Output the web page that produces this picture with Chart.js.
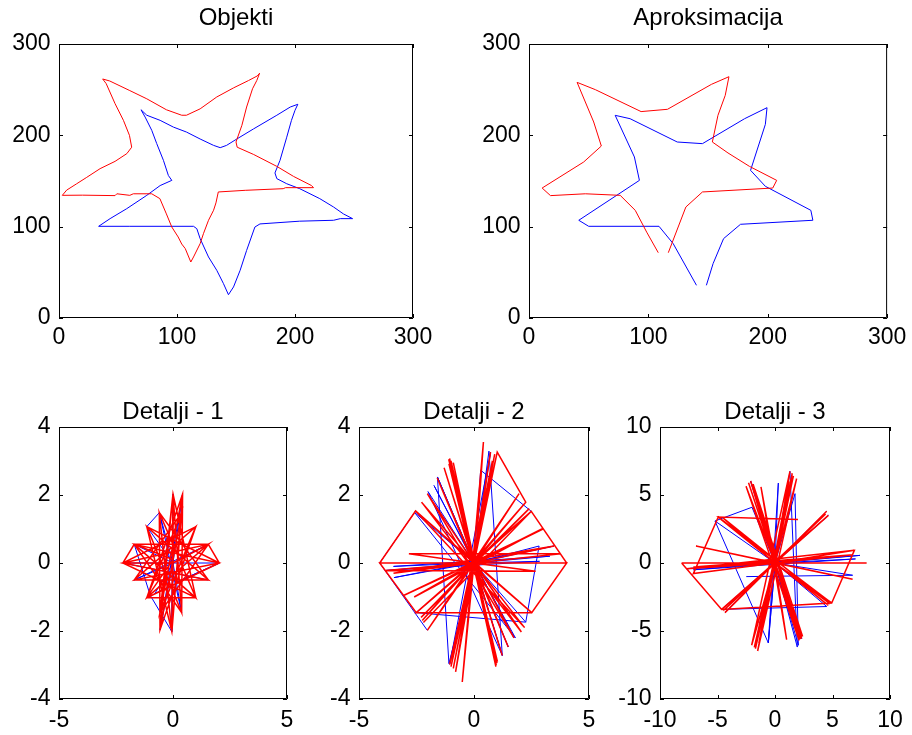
<!DOCTYPE html>
<html>
<head>
<meta charset="utf-8">
<script src="https://cdn.jsdelivr.net/npm/chart.js@4.4.1/dist/chart.umd.min.js"></script>
<style>
  body { margin: 0; background: #fff; }
  #wrap { position: relative; width: 912px; height: 735px; overflow: hidden; }
  canvas { position: absolute; }
</style>
</head>
<body>
<div id="wrap">
  <canvas id="objekti"></canvas>
  <canvas id="aproks"></canvas>
  <canvas id="det1"></canvas>
  <canvas id="det2"></canvas>
  <canvas id="det3"></canvas>
</div>
<script>
// ---- data ----
const titles = ['Objekti', 'Aproksimacija', 'Detalji - 1', 'Detalji - 2', 'Detalji - 3'];

const ticksTop = [0, 100, 200, 300];
const ticksDet1X = [-5, 0, 5];
const ticksDet1Y = [-4, -2, 0, 2, 4];
const ticksDet3 = [-10, -5, 0, 5, 10];

const objektiRed = [[2.8,134.3],[20,134.5],[47.5,134],[49,136],[60,134.3],[63,136],[78.6,136],[85.5,130.7],[91,114],[95.6,99.6],[101,88.7],[104,81],[107,76],[111.7,61.3],[114,66.8],[119.6,81.4],[122.4,92.3],[126.7,107],[131,118],[133,126],[135,138],[157.8,139.8],[190,141.6],[192,142.7],[215.7,142.7],[214,145],[198.8,155],[184.6,166],[165,179],[151,187],[150,192.7],[155,211],[159,231],[164,251],[167.6,260],[170,268],[168,265],[160.6,260],[148,252],[133.7,242],[119.6,229],[108,222],[104,222],[91,228],[74.4,240],[60,249],[43,259.5],[37,261.7],[40,256.6],[47.5,234.7],[54.6,216.4],[59.7,200],[61.6,187],[57.5,180],[47.5,171.5],[34.8,163.5],[23.5,154],[15,147],[6.5,140],[2.8,134.3]];

const objektiBlue = [[33.6,100.4],[60,100.4],[114,100.4],[116.8,97.8],[119.6,86.9],[126.7,66.8],[133.7,52.2],[139.4,37.6],[143.6,25.5],[147.9,34],[153.5,52.2],[159,74],[166,99.6],[170.3,103],[204,106],[232.7,107],[238.4,108.8],[248.8,108.8],[241,114],[232.7,121.5],[221,130.7],[204,141.6],[193,147],[184.6,152.6],[183,158.8],[187.3,172.6],[193,198],[197,216.4],[200,227.4],[202.4,234],[196,231],[184.6,222],[164.8,207],[150.7,196],[142,189],[136.6,186.5],[131,189],[119.6,196],[108,203.6],[97,209],[85.7,216.4],[74.4,222],[69.5,228],[73,220],[78.6,205.5],[82.8,191],[88.5,172.6],[92.7,156],[95.6,150.7],[85.7,145],[74.4,134.3],[57.4,119.7],[43.3,108.8],[33.6,100.4]];

const aproksRed = [[108.3,71.5],[98.6,94],[89,117.9],[76.4,134.3],[47.2,136],[18,134],[11,142.3],[45.8,170.8],[60.6,188.3],[54.2,214.6],[40.3,258],[55.6,250],[93.9,226],[116,228.5],[152.8,255.8],[167.5,264.2],[164.4,243.8],[158.3,221.9],[153.6,192.7],[166.7,180.7],[184.7,166],[207.5,150.7],[204.2,142.3],[145.3,138],[131.4,121.5],[116.7,71.5]];

const aproksBlue = [[140.3,35.8],[120.8,81.4],[108.9,100.4],[50,100.4],[41.7,107],[92.5,150.7],[88.3,176.3],[72.2,221.9],[84.7,218.2],[124.2,192.7],[145.3,190.9],[180.6,218.2],[199.4,230.3],[198,212],[185.6,161.7],[198,144.2],[236.1,117.9],[237.8,107],[177.2,102.6],[163,86.9],[154.2,59.5],[148.6,35.8]];

const det1Red = [[2.03,0],[-1.15,1.07],[-0.05,-2.02],[0.38,1.48],[-1.7,-0.5],[1.55,-0.5],[-0.6,1.48],[-0.57,-1.97],[1.0,1.07],[-2.2,0],[1.0,-1.02],[0,2.03],[-0.57,-1.46],[1.55,0.55],[-1.7,0.55],[0.38,-1.46],[0.42,2.03],[-1.15,-1.02],[2.03,0],[-1.7,0.55],[1.0,-1.02],[-0.6,1.48],[-0.05,-2.02],[0.42,2.03],[-0.57,-1.46],[1.0,1.07],[-1.7,-0.5],[2.03,0],[1.55,0.55],[-2.2,0],[1.55,-0.5],[-1.15,1.07],[0.38,-1.46],[0,2.03],[-0.57,-1.97],[0.38,1.48],[-1.15,-1.02],[1.55,0.55],[0,0],[0,2.03],[-0.05,-2.02],[0,0],[-2.2,0],[-1.7,0.55],[0,0.1],[-1.15,-1.02],[1.0,-1.02]];

const det1Blue = [[-0.6,1.48],[-1.15,1.07],[0,0],[-1.7,0.55],[-1.0,-0.95],[-0.05,-2.02],[0,2.03],[-0.05,-2.02],[0,0],[2.03,0],[0.2,-0.55],[2.03,0],[-0.8,-0.9],[0,0],[0.42,2.03],[-0.57,-1.97],[0,0],[1.55,0.55],[-1.7,-0.5],[0,0],[-0.6,1.48],[0.38,-1.46],[0,0],[-2.2,0],[1.55,-0.5]];

const det2Red = [[-4.1,0],[-2.54,1.53],[2.51,-1.46],[4.03,0],[2.49,1.52],[-2.51,-1.46],[-4.1,0],[4.03,0],[2.51,-1.46],[-2.51,-1.46],[0,0],[-1.06,3.07],[0.97,-3.01],[0.05,0],[-1.09,2.92],[1.0,-2.95],[0,0.1],[-1.0,3.0],[0.95,-3.05],[0,0],[-1.1,3.05],[1.02,-2.9],[0,0],[1.01,3.26],[-1.06,-2.98],[0,0],[0.72,3.26],[-0.8,-3.2],[0.05,0.05],[0.41,3.56],[-0.51,-3.5],[0,0],[0.9,3.2],[-0.9,-3.1],[0,0],[0.8,3.0],[-1.0,-3.05],[0,0],[-2.54,1.53],[2.51,-1.46],[0,0],[-2.28,1.79],[2.06,-2.03],[0,0],[-2.03,2.04],[1.74,-2.2],[0,0],[-1.6,2.5],[1.49,-2.47],[0,0],[-1.3,2.8],[1.23,-2.72],[0,0],[2.49,1.52],[-2.51,-1.46],[0,0],[2.25,1.79],[-2.25,-1.69],[0,0],[1.96,2.04],[-2.03,-1.98],[0,0],[2.97,1.01],[-2.6,-1.0],[0,0],[2.4,1.6],[-2.3,-1.6],[0,0],[-2.83,0.27],[3.77,0.27],[0,0],[-3.84,-0.22],[2.68,-0.24],[0,0],[3.48,0.5],[-3.5,-0.3],[0,0],[3.0,1.0],[-3.04,-0.95],[0,0],[1.01,3.26],[2.25,1.79],[0,0],[-0.9,2.95],[0.97,-3.01],[0,0],[-2.54,1.53],[2.2,-1.9],[0,0],[2.49,1.52],[-2.2,-1.75]];

const det2Blue = [[-2.03,-1.98],[-4.1,0],[-2.54,1.53],[0,0],[-1.59,2.53],[-1.09,-2.96],[0,0],[-1.74,2.28],[1.74,-2.2],[0,0],[-1.59,2.53],[1.49,-2.47],[0,0],[-2.0,2.1],[1.23,-2.72],[0,0],[-2.6,1.5],[1.8,-2.2],[0,0],[0.65,3.29],[1.23,-2.72],[0,0],[0.72,3.26],[-1.06,-2.98],[0,0],[0.29,2.73],[2.49,1.52],[0,0],[-3.48,-0.43],[3.48,0.5],[0,0],[-3.84,-0.22],[2.85,0.05],[0,0],[2.83,0.5],[2.25,-1.74],[0,0],[-3.5,-0.1],[3.3,0.2],[0,0],[-2.51,-1.46],[2.25,-1.74]];

const det3Red = [[-8.12,0],[-4.64,-3.41],[4.93,-2.94],[6.9,0.93],[0,0],[-8.12,0],[7.97,0],[0,0],[-7.68,-0.42],[6.9,0.93],[0,0],[-7.1,-0.3],[6.8,0.6],[0,0],[-6.87,1.25],[6.75,-1.2],[0,0],[-7.1,-0.78],[-4.93,3.38],[0,0],[-4.93,3.38],[4.93,-2.94],[0,0],[-4.7,3.2],[4.64,-3.11],[0,0],[-4.5,3.3],[4.8,-3.0],[0,0],[4.49,3.8],[-4.35,-3.65],[0,0],[4.64,3.5],[-4.64,-3.41],[0,0],[4.4,3.6],[-4.5,-3.5],[0,0],[-2.12,6.03],[2.32,-5.56],[0,0],[-2.52,5.64],[2.1,-5.7],[0,0],[-2.3,5.9],[2.2,-5.6],[0,0],[-1.9,5.8],[2.4,-5.4],[0,0],[1.3,6.74],[-2.03,-6.05],[0,0],[1.88,6.2],[-1.51,-6.47],[0,0],[1.6,6.4],[-1.8,-6.2],[0,0],[1.5,6.6],[-1.7,-6.3],[0,0],[1.2,6.0],[-1.4,-5.9],[0,0],[-1.22,5.59],[1.01,-5.64],[0,0],[-4.93,3.38],[2.0,3.2]];

const det3Blue = [[-5.22,3.09],[-2.0,4.1],[0,0],[-5.22,3.09],[-0.58,-5.88],[0,0],[0.29,5.88],[-0.58,-5.88],[0,0],[1.74,5.1],[2.03,-6.05],[0,0],[1.3,6.74],[1.94,-6.18],[0,0],[-2.12,6.03],[2.32,-5.56],[0,0],[7.39,0.56],[-7.68,-0.42],[0,0],[7.0,0.3],[-7.1,-0.5],[0,0],[4.64,3.5],[-4.64,-3.41],[4.5,-3.2],[0,0],[4.49,3.8],[-4.35,-3.65],[0,0],[6.75,-0.9],[-2.5,-1.0]];

// ---- drawing ----
Chart.defaults.font.family = '"Liberation Sans", Arial, Helvetica, sans-serif';
Chart.defaults.color = '#000';

// box with inward tick marks on all four sides, like the original figure
const framePlugin = {
  id: 'frame',
  afterDatasetsDraw(chart) {
    const { ctx, chartArea: a, scales: { x, y } } = chart;
    ctx.save();
    ctx.strokeStyle = '#000';
    ctx.lineWidth = 1;
    ctx.beginPath();
    ctx.rect(a.left + 0.5, a.top + 0.5, a.right - a.left - 1, a.bottom - a.top - 1);
    const len = 4;
    x.ticks.forEach(t => {
      const px = Math.round(x.getPixelForValue(t.value)) + 0.5;
      ctx.moveTo(px, a.bottom); ctx.lineTo(px, a.bottom - len);
      ctx.moveTo(px, a.top); ctx.lineTo(px, a.top + len);
    });
    y.ticks.forEach(t => {
      const py = Math.round(y.getPixelForValue(t.value)) + 0.5;
      ctx.moveTo(a.left, py); ctx.lineTo(a.left + len, py);
      ctx.moveTo(a.right, py); ctx.lineTo(a.right - len, py);
    });
    ctx.stroke();
    ctx.restore();
  }
};

function line(points, color, width) {
  return {
    data: points.map(([x, y]) => ({ x, y })),
    showLine: true,
    borderColor: color,
    borderWidth: width,
    pointRadius: 0,
    fill: false
  };
}

// box = plot frame in page pixels [left, top, right, bottom]; cv = canvas [left, top, width, height]
function panel(id, title, box, cv, titlePad, xTicks, yTicks, xPad, datasets) {
  const el = document.getElementById(id);
  el.width = cv[2]; el.height = cv[3];
  el.style.left = cv[0] + 'px'; el.style.top = cv[1] + 'px';
  const yW = box[0] - cv[0];
  const xH = cv[1] + cv[3] - box[3];
  const padR = cv[0] + cv[2] - box[2];
  const tickFont = { size: 23 };
  new Chart(el, {
    type: 'scatter',
    data: { datasets },
    options: {
      responsive: false,
      animation: false,
      events: [],
      layout: { padding: { left: 0, right: padR, top: 0, bottom: 0 } },
      plugins: {
        legend: { display: false },
        tooltip: { enabled: false },
        title: {
          display: true, text: title, fullSize: false,
          font: { size: 24, weight: 'normal' }, color: '#000',
          padding: titlePad
        }
      },
      scales: {
        x: {
          type: 'linear', min: xTicks[0], max: xTicks[xTicks.length - 1],
          grid: { display: false, drawTicks: false }, border: { display: false },
          afterBuildTicks: s => { s.ticks = xTicks.map(v => ({ value: v })); },
          afterFit: s => { s.height = xH; },
          ticks: { font: tickFont, color: '#000', padding: xPad, autoSkip: false, maxRotation: 0 }
        },
        y: {
          type: 'linear', min: yTicks[0], max: yTicks[yTicks.length - 1],
          grid: { display: false, drawTicks: false }, border: { display: false },
          afterBuildTicks: s => { s.ticks = yTicks.map(v => ({ value: v })); },
          afterFit: s => { s.width = yW; },
          ticks: { font: tickFont, color: '#000', padding: 8.5, autoSkip: false }
        }
      }
    },
    plugins: [framePlugin]
  });
}

const topPad = { top: 3.9, bottom: 11.3 };
const botPad = { top: 15.2, bottom: 0 };

panel('objekti', titles[0], [59, 44, 413, 318], [0, 0, 456, 365], topPad, ticksTop, ticksTop, 5.7,
  [line(objektiRed, '#ff0000', 1), line(objektiBlue, '#0000ff', 1)]);
panel('aproks', titles[1], [529, 44, 890, 318], [456, 0, 456, 365], topPad, ticksTop, ticksTop, 5.7,
  [line(aproksRed, '#ff0000', 1), line(aproksBlue, '#0000ff', 1)]);
panel('det1', titles[2], [59, 427, 287, 699], [0, 383, 304, 352], botPad, ticksDet1X, ticksDet1Y, 8,
  [line(det1Red, '#ff0000', 1.5), line(det1Blue, '#0000ff', 1)]);
panel('det2', titles[3], [359, 427, 589, 699], [304, 383, 304, 352], botPad, ticksDet1X, ticksDet1Y, 8,
  [line(det2Red, '#ff0000', 1.5), line(det2Blue, '#0000ff', 1)]);
panel('det3', titles[4], [660, 427, 890, 699], [608, 383, 304, 352], botPad, ticksDet3, ticksDet3, 8,
  [line(det3Red, '#ff0000', 1.5), line(det3Blue, '#0000ff', 1)]);
</script>
</body>
</html>
